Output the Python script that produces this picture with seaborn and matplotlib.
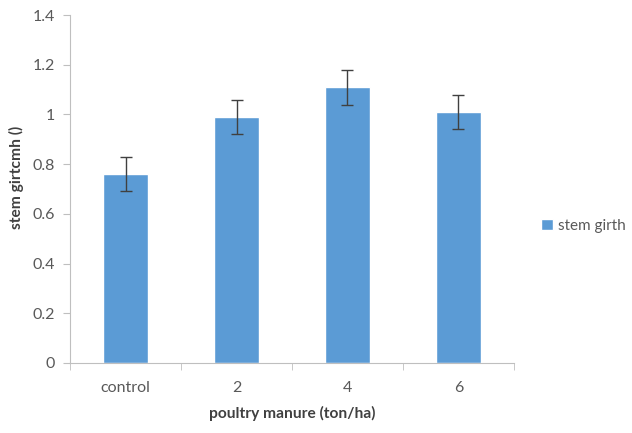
import matplotlib
matplotlib.use("Agg")
import matplotlib.pyplot as plt
import pandas as pd
import seaborn as sns

categories = ["control", "2", "4", "6"]
stem_girth = [0.76, 0.99, 1.11, 1.01]
errors = [0.07, 0.07, 0.07, 0.07]
y_ticks = [0, 0.2, 0.4, 0.6, 0.8, 1.0, 1.2, 1.4]
y_tick_labels = ["0", "0.2", "0.4", "0.6", "0.8", "1", "1.2", "1.4"]

df = pd.DataFrame({"dose": categories, "girth": stem_girth})

sns.set_style("white")
plt.rcParams["font.family"] = ["Lato", "DejaVu Sans"]

fig = plt.figure(figsize=(6.32, 4.33), dpi=100)
ax = fig.add_axes([0.111, 0.162, 0.702, 0.803])

bar_color = "#5B9BD5"
sns.barplot(data=df, x="dose", y="girth", color=bar_color, width=0.4,
            errorbar=None, saturation=1, ax=ax, label="stem girth")
ax.errorbar(range(len(categories)), stem_girth, yerr=errors, fmt="none",
            ecolor="#404040", elinewidth=1, capsize=4, capthick=1)

ax.set_ylim(0, 1.4)
ax.set_xlim(-0.5, 3.5)
ax.set_yticks(y_ticks)
ax.set_yticklabels(y_tick_labels)

for side in ["top", "right"]:
    ax.spines[side].set_visible(False)
ax.spines["left"].set_color("#bfbfbf")
ax.spines["bottom"].set_color("#bfbfbf")

ax.tick_params(axis="y", direction="out", length=5, color="#bfbfbf",
               labelsize=11.5, labelcolor="#595959", pad=6, left=True)
ax.set_xticks([0, 1, 2, 3])
ax.set_xticks([-0.5, 0.5, 1.5, 2.5, 3.5], minor=True)
ax.tick_params(axis="x", which="major", length=0, labelsize=11.5,
               labelcolor="#595959", pad=13)
ax.tick_params(axis="x", which="minor", direction="out", length=5,
               color="#bfbfbf", bottom=True)

ax.set_xlabel("poultry manure (ton/ha)", fontsize=11.2, fontweight="bold",
              color="#404040", labelpad=8)
ax.set_ylabel("stem girtcmh ()", fontsize=11.2, fontweight="bold",
              color="#404040")
ax.yaxis.set_label_coords(-0.103, 0.534)

leg = ax.legend(loc="center left", bbox_to_anchor=(1.03, 0.394), frameon=False,
                fontsize=11, handlelength=0.8, handleheight=0.8,
                handletextpad=0.3)
for t in leg.get_texts():
    t.set_color("#595959")

fig.savefig("out.png", dpi=100)
